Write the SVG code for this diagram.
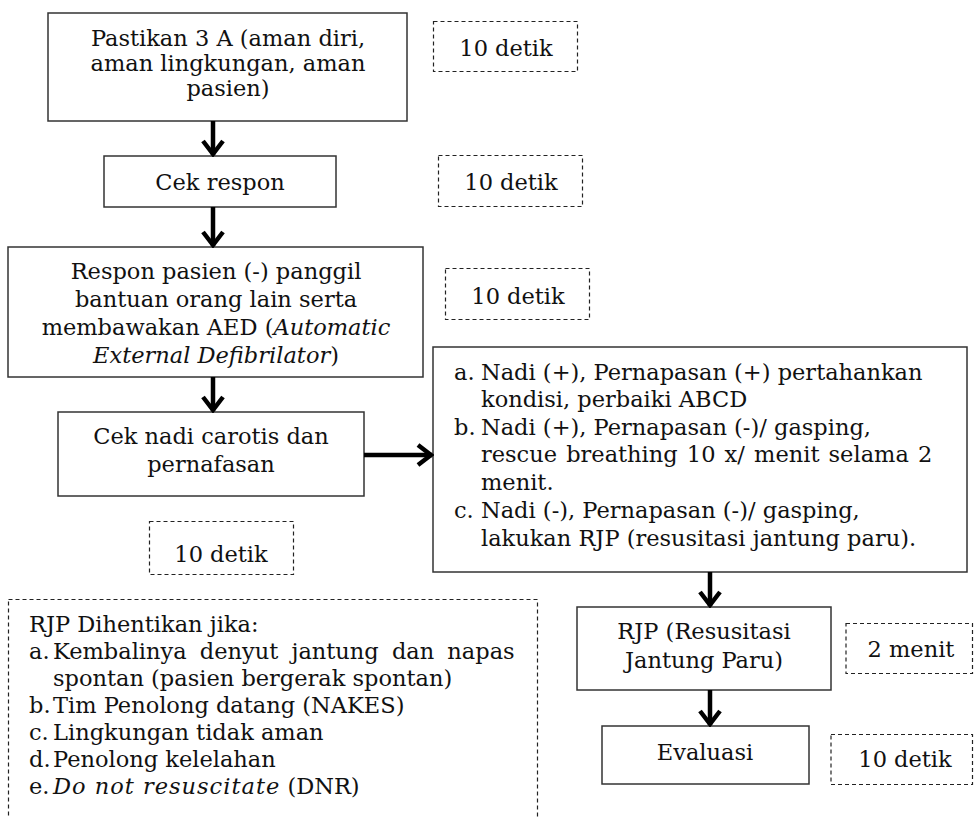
<svg xmlns="http://www.w3.org/2000/svg" width="974" height="817" viewBox="0 0 974 817">
<defs>
<marker id="arr" viewBox="0 0 20 24" refX="18" refY="12" markerWidth="20" markerHeight="24" markerUnits="userSpaceOnUse" orient="auto">
<path d="M4,2 L17,12 L4,22" fill="none" stroke="#000" stroke-width="4.5" stroke-linejoin="miter"/>
</marker>
</defs>
<style>
.box{fill:#fff;stroke:#333;stroke-width:1.5}
.dash{fill:none;stroke:#222;stroke-width:1.2;stroke-dasharray:4 3}
text{font-family:"DejaVu Serif","Liberation Serif",serif;font-size:22.5px;fill:#111}
.c{text-anchor:middle}
.i{font-style:italic}
.conn{fill:none;stroke:#000;stroke-width:4.5}
</style>
<rect width="974" height="817" fill="#fff"/>
<g id="n1"><rect class="box" x="48" y="13" width="359" height="108"/>
<text class="c" x="228" y="46">Pastikan 3 A (aman diri,</text>
<text class="c" x="228" y="71">aman lingkungan, aman</text>
<text class="c" x="228" y="96">pasien)</text></g>
<g id="t1"><rect class="dash" x="433.5" y="21.5" width="144" height="50"/><text class="c" x="506" y="56">10 detik</text></g>
<g id="n2"><rect class="box" x="104" y="156" width="232" height="51"/><text class="c" x="220" y="190">Cek respon</text></g>
<g id="t2"><rect class="dash" x="438.5" y="155.5" width="144" height="51"/><text class="c" x="511" y="190">10 detik</text></g>
<g id="n3"><rect class="box" x="8" y="247" width="415" height="130"/>
<text class="c" x="216" y="279">Respon pasien (-) panggil</text>
<text class="c" x="216" y="307">bantuan orang lain serta</text>
<text class="c" x="216" y="335">membawakan AED (<tspan class="i">Automatic</tspan></text>
<text class="c" x="216" y="363"><tspan class="i">External Defibrilator</tspan>)</text></g>
<g id="t3"><rect class="dash" x="445.5" y="268.5" width="144" height="51"/><text class="c" x="518" y="304">10 detik</text></g>
<g id="n4"><rect class="box" x="58" y="412" width="306" height="84"/>
<text class="c" x="211" y="444">Cek nadi carotis dan</text>
<text class="c" x="211" y="472">pernafasan</text></g>
<g id="n5"><rect class="box" x="433" y="347" width="534" height="225"/>
<text x="454" y="380">a.</text><text x="481" y="380">Nadi (+), Pernapasan (+) pertahankan</text>
<text x="481" y="407">kondisi, perbaiki ABCD</text>
<text x="454" y="435">b.</text><text x="481" y="435">Nadi (+), Pernapasan (-)/ gasping,</text>
<text x="481" y="462" word-spacing="2">rescue breathing 10 x/ menit selama 2</text>
<text x="481" y="490">menit.</text>
<text x="454" y="518">c.</text><text x="481" y="518">Nadi (-), Pernapasan (-)/ gasping,</text>
<text x="481" y="546">lakukan RJP (resusitasi jantung paru).</text></g>
<g id="t4"><rect class="dash" x="149.5" y="521.5" width="144" height="53"/><text class="c" x="221" y="562">10 detik</text></g>
<g id="n6"><rect class="dash" x="8.5" y="599.5" width="529" height="230"/>
<text x="29" y="632">RJP Dihentikan jika:</text>
<text x="29" y="659">a.</text><text x="53" y="659" word-spacing="6">Kembalinya denyut jantung dan napas</text>
<text x="53" y="686">spontan (pasien bergerak spontan)</text>
<text x="29" y="713">b.</text><text x="53" y="713">Tim Penolong datang (NAKES)</text>
<text x="29" y="740">c.</text><text x="53" y="740">Lingkungan tidak aman</text>
<text x="29" y="767">d.</text><text x="53" y="767">Penolong kelelahan</text>
<text x="29" y="794">e.</text><text x="53" y="794"><tspan class="i" letter-spacing="1">Do not resuscitate</tspan> (DNR)</text></g>
<g id="n7"><rect class="box" x="577" y="607" width="254" height="83"/>
<text class="c" x="704" y="639">RJP (Resusitasi</text>
<text class="c" x="704" y="668">Jantung Paru)</text></g>
<g id="t5"><rect class="dash" x="846" y="623.5" width="126.5" height="50"/><text class="c" x="911" y="657">2 menit</text></g>
<g id="n8"><rect class="box" x="602" y="726" width="207" height="58"/><text class="c" x="705" y="760">Evaluasi</text></g>
<g id="t6"><rect class="dash" x="831" y="734.5" width="141.5" height="50"/><text class="c" x="905" y="767">10 detik</text></g>
<g id="connectors">
<path class="conn" d="M213,121 V155" marker-end="url(#arr)"/>
<path class="conn" d="M213,207 V246" marker-end="url(#arr)"/>
<path class="conn" d="M213,377 V411" marker-end="url(#arr)"/>
<path class="conn" d="M364,455 H432" marker-end="url(#arr)"/>
<path class="conn" d="M710,572 V606" marker-end="url(#arr)"/>
<path class="conn" d="M710,690 V725" marker-end="url(#arr)"/>
</g>
</svg>
